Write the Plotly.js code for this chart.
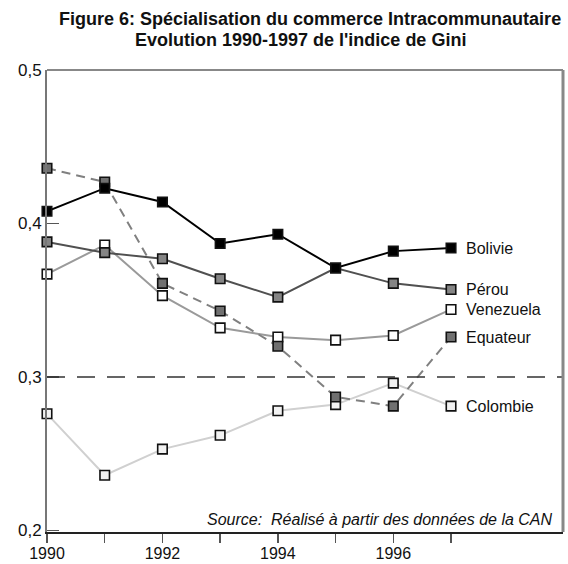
<!DOCTYPE html>
<html>
<head>
<meta charset="utf-8">
<script src="https://cdn.plot.ly/plotly-3.0.1.min.js"></script>
<style>html,body{margin:0;padding:0;background:#fff;}#chart{width:568px;height:564px;}</style>
</head>
<body>
<div id="chart"></div>
<script>
const years = [1990, 1991, 1992, 1993, 1994, 1995, 1996, 1997];
const bolivie   = [0.408, 0.423, 0.414, 0.387, 0.393, 0.371, 0.382, 0.384];
const perou     = [0.388, 0.381, 0.377, 0.364, 0.352, 0.371, 0.361, 0.357];
const venezuela = [0.367, 0.386, 0.353, 0.332, 0.326, 0.324, 0.327, 0.344];
const equateur  = [0.436, 0.427, 0.361, 0.343, 0.320, 0.287, 0.281, 0.326];
const colombie  = [0.276, 0.236, 0.253, 0.262, 0.278, 0.282, 0.296, 0.281];
const seriesNames = ['Bolivie', 'Pérou', 'Venezuela', 'Equateur', 'Colombie'];
const yTickVals = [0.2, 0.3, 0.4, 0.5];
const yTickText = ['0,2', '0,3', '0,4', '0,5'];
const xTickText = ['1990', '', '1992', '', '1994', '', '1996', ''];
const refLevel = 0.3;
const titleLine1 = "<b>Figure 6: Spécialisation du commerce Intracommunautaire</b>";
const titleLine2 = "<b>Evolution 1990-1997 de l'indice de Gini</b>";
const sourceText = "<i>Source:\u00a0 Réalisé à partir des données de la CAN</i>";

const FONT = 'Liberation Sans, Arial, sans-serif';
const data = [colombie, venezuela, equateur, perou, bolivie];
const names = ['Colombie', 'Venezuela', 'Equateur', 'Pérou', 'Bolivie'];
const styles = {
  'Bolivie':   {lc: '#000000', dash: 'solid', fill: '#000000'},
  'Pérou':     {lc: '#505050', dash: 'solid', fill: '#858585'},
  'Venezuela': {lc: '#9a9a9a', dash: 'solid', fill: '#ffffff'},
  'Equateur':  {lc: '#808080', dash: 'dash',  fill: '#707070'},
  'Colombie':  {lc: '#d0d0d0', dash: 'solid', fill: '#f2f2f2'}
};

const traces = data.map((vals, i) => {
  const s = styles[names[i]];
  return {
    x: years, y: vals, name: names[i], type: 'scatter', mode: 'lines+markers',
    line: {color: s.lc, width: 2, dash: s.dash === 'dash' ? '9px,6px' : 'solid'},
    marker: {symbol: 'square', size: 9.5, color: s.fill, line: {color: '#111', width: 1.6}},
    cliponaxis: false
  };
});

const valsByName = {'Bolivie': bolivie, 'Pérou': perou, 'Venezuela': venezuela, 'Equateur': equateur, 'Colombie': colombie};
const annotations = seriesNames.map(n => ({
  x: years[years.length - 1], y: valsByName[n][years.length - 1], xref: 'x', yref: 'y',
  text: n, showarrow: false, xanchor: 'left', xshift: 13,
  font: {family: FONT, size: 16, color: '#111'}
}));
annotations.push({
  x: 0.985, y: 0.005, xref: 'paper', yref: 'paper', xanchor: 'right', yanchor: 'bottom',
  text: sourceText, showarrow: false,
  font: {family: FONT, size: 16, color: '#111'}
});
annotations.push({
  x: 0.51, y: 1.110, xref: 'paper', yref: 'paper', xanchor: 'center', yanchor: 'middle',
  text: titleLine1, showarrow: false, font: {family: FONT, size: 18, color: '#111'}
});
annotations.push({
  x: 0.492, y: 1.064, xref: 'paper', yref: 'paper', xanchor: 'center', yanchor: 'middle',
  text: titleLine2, showarrow: false, font: {family: FONT, size: 18, color: '#111'}
});

const layout = {
  width: 568, height: 564,
  margin: {l: 47, r: 5, t: 70, b: 32},
  paper_bgcolor: '#ffffff', plot_bgcolor: '#ffffff',
  showlegend: false,
  xaxis: {
    range: [1990, 1998.94], tickvals: years, ticktext: xTickText,
    ticks: 'outside', ticklen: 9, tickcolor: '#555', tickwidth: 1.5,
    ticklabelstandoff: -3,
    showgrid: false, zeroline: false, showline: true, linecolor: '#222', linewidth: 1.5,
    tickfont: {family: FONT, size: 16, color: '#111'}
  },
  yaxis: {
    range: [0.199, 0.5], tickvals: yTickVals, ticktext: yTickText,
    ticks: 'inside', ticklen: 12, tickcolor: '#555', tickwidth: 1.5,
    showgrid: false, zeroline: false, showline: true, linecolor: '#777', linewidth: 2,
    tickfont: {family: FONT, size: 17, color: '#111'}
  },
  shapes: [
    {type: 'line', xref: 'paper', yref: 'y', x0: 0, x1: 1, y0: refLevel, y1: refLevel,
     line: {color: '#333', width: 1.5, dash: '18px,12px'}},
    {type: 'line', xref: 'paper', yref: 'paper', x0: 0, x1: 1, y0: 1, y1: 1,
     line: {color: '#888', width: 2}},
    {type: 'line', xref: 'paper', yref: 'paper', x0: 1, x1: 1, y0: 0, y1: 1,
     line: {color: '#888', width: 3}}
  ],
  annotations: annotations
};

Plotly.newPlot('chart', traces, layout, {displayModeBar: false, staticPlot: true});
</script>
</body>
</html>
